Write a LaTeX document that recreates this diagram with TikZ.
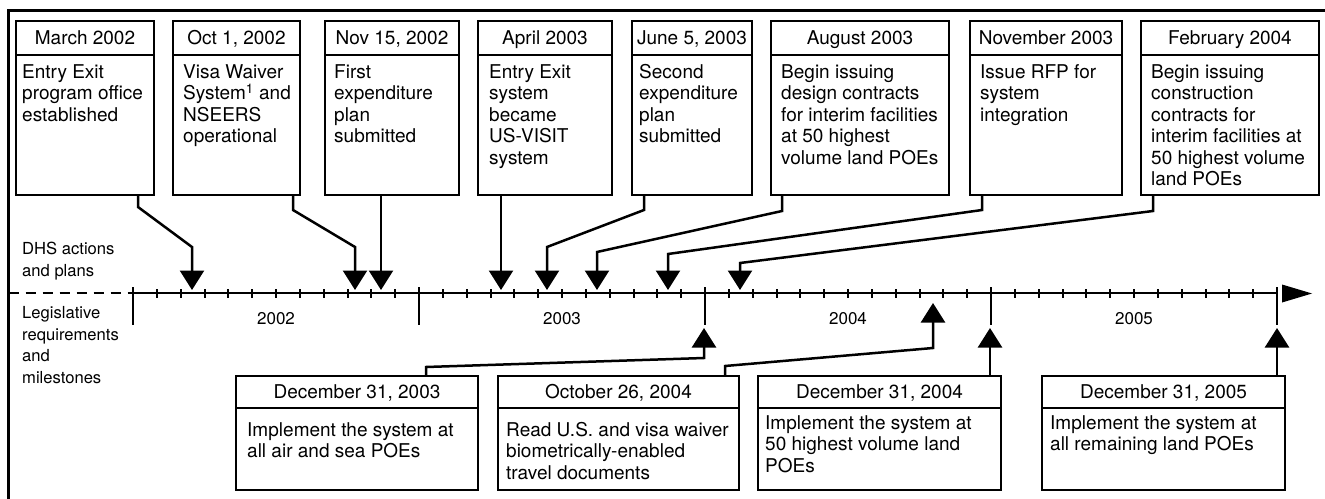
\documentclass[tikz,border=0pt]{standalone}
\usepackage{fontspec}
\setmainfont{TeX Gyre Heros}
\usetikzlibrary{arrows.meta}
\begin{document}
\begin{tikzpicture}[x=1pt,y=-1pt,
  box/.style={draw, line width=1.2pt, inner sep=0pt, outer sep=0pt},
  hdr/.style={box, font=\fontsize{19}{21.5}\selectfont, text height=13.7pt, text depth=0pt},
  txt/.style={inner sep=0pt, anchor=north west, align=left, font=\fontsize{19}{21.5}\selectfont, execute at begin node=\strut},
  lab/.style={inner sep=0pt, anchor=north west, align=left, font=\fontsize{16.6}{21.5}\selectfont, execute at begin node=\strut},
  yr/.style={inner sep=0pt, font=\fontsize{17}{20}\selectfont},
  conn/.style={line width=2.5pt},
  tipd/.style={-{Triangle[length=19.5pt,width=24pt]}},
  axisline/.style={line width=2.5pt},
  tick/.style={line width=2pt}
]
\useasboundingbox (0,0) rectangle (1325,498);
% outer frame
\draw[line width=3pt] (8.5,520) -- (8.5,10.3) -- (1340,10.3);

% ---------- top boxes ----------
\node[hdr, minimum width=138pt, minimum height=34pt, anchor=north west] (h1) at (16,21) {March 2002};
\node[box, minimum width=138pt, minimum height=140pt, anchor=north west] (t1) at (16,55) {};
\node[txt] (x1) at (22,64) {Entry Exit\\program office\\established};

\node[hdr, minimum width=127pt, minimum height=34pt, anchor=north west] (h2) at (173,21) {Oct 1, 2002};
\node[box, minimum width=127pt, minimum height=140pt, anchor=north west] (t2) at (173,55) {};
\node[txt] (x2) at (183,64) {Visa Waiver\\System\textsuperscript{1} and\\NSEERS\\operational};

\node[hdr, minimum width=134pt, minimum height=34pt, anchor=north west] (h3) at (325,21) {Nov 15, 2002};
\node[box, minimum width=134pt, minimum height=140pt, anchor=north west] (t3) at (325,55) {};
\node[txt] (x3) at (334,64) {First\\expenditure\\plan\\submitted};

\node[hdr, minimum width=134pt, minimum height=34pt, anchor=north west] (h4) at (478,21) {April 2003};
\node[box, minimum width=134pt, minimum height=140pt, anchor=north west] (t4) at (478,55) {};
\node[txt] (x4) at (489,64) {Entry Exit\\system\\became\\US-VISIT\\system};

\node[hdr, minimum width=120pt, minimum height=34pt, anchor=north west] (h5) at (632,21) {June 5, 2003};
\node[box, minimum width=120pt, minimum height=140pt, anchor=north west] (t5) at (632,55) {};
\node[txt] (x5) at (639,64) {Second\\expenditure\\plan\\submitted};

\node[hdr, minimum width=178pt, minimum height=34pt, anchor=north west] (h6) at (771,21) {August 2003};
\node[box, minimum width=178pt, minimum height=140pt, anchor=north west] (t6) at (771,55) {};
\node[txt] (x6) at (781,64) {Begin issuing\\design contracts\\for interim facilities\\at 50 highest\\volume land POEs};

\node[hdr, minimum width=152pt, minimum height=34pt, anchor=north west] (h7) at (970,21) {November 2003};
\node[box, minimum width=152pt, minimum height=140pt, anchor=north west] (t7) at (970,55) {};
\node[txt] (x7) at (980,64) {Issue RFP for\\system\\integration};

\node[hdr, minimum width=178pt, minimum height=34pt, anchor=north west] (h8) at (1141,21) {February 2004};
\node[box, minimum width=178pt, minimum height=140pt, anchor=north west] (t8) at (1141,55) {};
\node[txt] (x8) at (1151,64) {Begin issuing\\construction\\contracts for\\interim facilities at\\50 highest volume\\land POEs};

% ---------- side labels ----------
\node[lab] (dhs) at (22,242.3) {DHS actions\\and plans};
\node[lab] (leg) at (22,306.3) {Legislative\\requirements\\and\\milestones};

% ---------- axis ----------
\coordinate (a0) at (133,293);
\coordinate (a1) at (1277,293);
\coordinate (fl) at (8.5,293);
\draw[axisline, dash pattern=on 10pt off 7pt] (fl) -- (a0);
\draw[axisline] (a0) -- (a1);
\fill (1282,284.5) -- (1312,293.5) -- (1282,302.5) -- cycle;
\foreach \i in {0,...,48}{
  \draw[tick] (133+\i*23.8333,289) -- (133+\i*23.8333,298);
}
\foreach \i in {0,...,4}{
  \draw[axisline] (133+\i*286,287) -- (133+\i*286,325);
}
\node[yr] (y2002) at (276,318.5) {2002};
\node[yr] (y2003) at (562,318.5) {2003};
\node[yr] (y2004) at (848,318.5) {2004};
\node[yr] (y2005) at (1134,318.5) {2005};

% ---------- top connectors ----------
\coordinate (m1) at (192,290);
\coordinate (m2) at (355,290);
\coordinate (m3) at (381,290);
\coordinate (m4) at (501,290);
\coordinate (m5) at (547,290);
\coordinate (m6) at (597,290);
\coordinate (m7) at (668,290);
\coordinate (m8) at (740,290);
\draw[conn, tipd] ([xshift=122pt]t1.south west) -- ++(0,12) -- (192,247) -- (m1);
\draw[conn, tipd] ([xshift=120pt]t2.south west) -- ++(0,15) -- (355,247) -- (m2);
\draw[conn, tipd] ([xshift=56pt]t3.south west) -- (m3);
\draw[conn, tipd] ([xshift=23pt]t4.south west) -- (m4);
\draw[conn, tipd] ([xshift=12pt]t5.south west) -- ++(0,15) -- (547,247) -- (m5);
\draw[conn, tipd] ([xshift=11pt]t6.south west) -- ++(0,16) -- (597,252) -- (m6);
\draw[conn, tipd] ([xshift=12pt]t7.south west) -- ++(0,15) -- (668,254) -- (m7);
\draw[conn, tipd] ([xshift=12pt]t8.south west) -- ++(0,16) -- (740,263) -- (m8);

% ---------- bottom boxes ----------
\node[hdr, minimum width=242pt, minimum height=32pt, anchor=north west] (g1) at (236,376) {December 31, 2003};
\node[box, minimum width=242pt, minimum height=82pt, anchor=north west] (b1) at (236,408) {};
\node[txt] (z1) at (247,422) {Implement the system at\\all air and sea POEs};

\node[hdr, minimum width=241pt, minimum height=32pt, anchor=north west] (g2) at (498,376) {October 26, 2004};
\node[box, minimum width=241pt, minimum height=82pt, anchor=north west] (b2) at (498,408) {};
\node[txt] (z2) at (506,422) {Read U.S. and visa waiver\\biometrically-enabled\\travel documents};

\node[hdr, minimum width=243pt, minimum height=32pt, anchor=north west] (g3) at (758,376) {December 31, 2004};
\node[box, minimum width=243pt, minimum height=82pt, anchor=north west] (b3) at (758,408) {};
\node[txt] (z3) at (765,415) {Implement the system at\\50 highest volume land\\POEs};

\node[hdr, minimum width=243pt, minimum height=32pt, anchor=north west] (g4) at (1042,376) {December 31, 2005};
\node[box, minimum width=243pt, minimum height=82pt, anchor=north west] (b4) at (1042,408) {};
\node[txt] (z4) at (1050,415) {Implement the system at\\all remaining land POEs};

% ---------- bottom connectors ----------
\coordinate (u1) at (704,328);
\coordinate (u2) at (933,303);
\coordinate (u3) at (990,328);
\coordinate (u4) at (1277,328);
\draw[conn, tipd] ([xshift=190pt]g1.north west) -- ++(0,-9) -- (704,358) -- (u1);
\draw[conn, tipd] ([xshift=227pt]g2.north west) -- ++(0,-10) -- (933,348) -- (u2);
\draw[conn, tipd] ([xshift=232pt]g3.north west) -- (u3);
\draw[conn, tipd] ([xshift=235pt]g4.north west) -- (u4);
\end{tikzpicture}
\end{document}
